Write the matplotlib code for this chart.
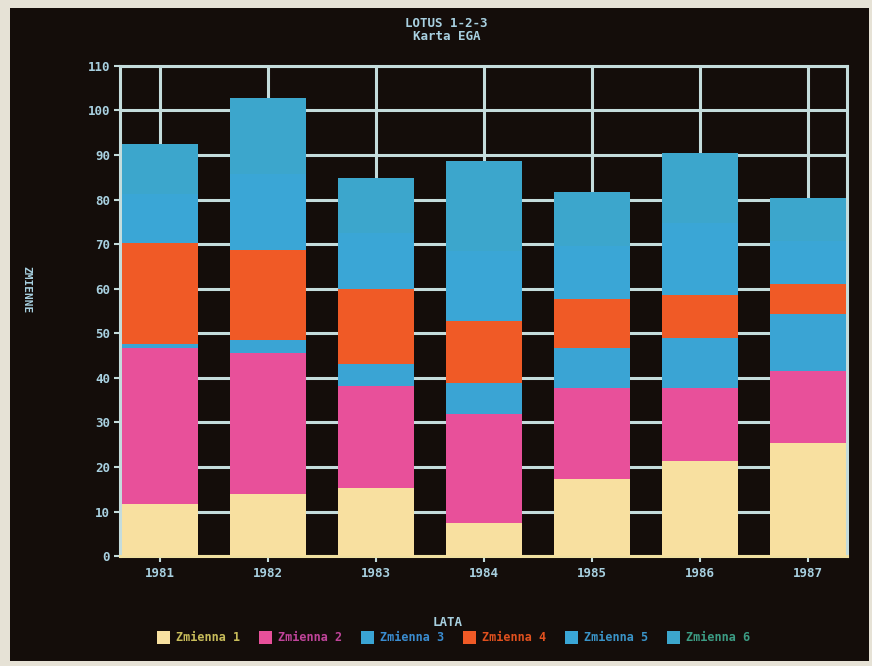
import matplotlib.pyplot as plt
import numpy as np
from matplotlib.patches import Rectangle

# data
years = ['1981', '1982', '1983', '1984', '1985', '1986', '1987']
zmienna1 = [11.7, 14.0, 15.3, 7.5, 17.2, 21.3, 25.4]
zmienna2 = [35.0, 31.6, 22.9, 24.3, 20.6, 16.5, 16.1]
zmienna3 = [1.0, 3.0, 4.8, 7.1, 9.0, 11.2, 12.8]
zmienna4 = [22.6, 20.2, 16.9, 13.9, 10.8, 9.7, 6.7]
zmienna5 = [11.0, 17.0, 12.5, 15.7, 12.0, 16.0, 9.7]
zmienna6 = [11.2, 17.1, 12.4, 20.2, 12.0, 15.8, 9.7]
labels = ['Zmienna 1', 'Zmienna 2', 'Zmienna 3', 'Zmienna 4', 'Zmienna 5', 'Zmienna 6']

bar_colors = ['#f8e0a0', '#e8509a', '#3aa4d4', '#f05a26', '#3aa6d6', '#3ca6cc']
text_colors = ['#c8bc5a', '#c0449a', '#3a8cd0', '#e0501e', '#3a94c8', '#3c9c84']
bg = '#140d0a'
grid_col = '#c4dcdc'
txt_col = '#a8d0e0'

fig = plt.figure(figsize=(8.72, 6.66), dpi=100)
fig.patch.set_facecolor('#e6e2d6')
fig.patches.append(Rectangle((0.011, 0.008), 0.985, 0.98, transform=fig.transFigure,
                             facecolor=bg, edgecolor='none', zorder=-10))

ax = fig.add_axes([0.138, 0.165, 0.833, 0.736])
ax.set_facecolor(bg)

x = np.arange(len(years))
series = [zmienna1, zmienna2, zmienna3, zmienna4, zmienna5, zmienna6]
bottom = np.zeros(len(years))
for vals, col, lab in zip(series, bar_colors, labels):
    ax.bar(x, vals, width=0.70, bottom=bottom, color=col, label=lab, zorder=3)
    bottom += np.array(vals)

ax.set_xlim(-0.37, 6.36)
ax.set_ylim(0, 110)
ax.set_yticks(np.arange(0, 111, 10))
ax.set_xticks(x)
ax.set_xticklabels(years)
ax.grid(True, color=grid_col, linewidth=2.2, zorder=1)

for s in ax.spines.values():
    s.set_color(grid_col)
    s.set_linewidth(2.2)
ax.spines['bottom'].set_color('#f0e0a0')

ax.tick_params(colors=grid_col, labelcolor=txt_col, length=4, width=1.5)
for t in ax.get_xticklabels() + ax.get_yticklabels():
    t.set_fontfamily('DejaVu Sans Mono')
    t.set_fontweight('bold')
    t.set_fontsize(9)

fig.text(0.512, 0.955, 'LOTUS 1-2-3\nKarta EGA', ha='center', va='center',
         color=txt_col, fontsize=9, fontweight='bold', family='DejaVu Sans Mono',
         linespacing=1.0)
fig.text(0.513, 0.066, 'LATA', ha='center', va='center', color=txt_col,
         fontsize=9, fontweight='bold', family='DejaVu Sans Mono')
fig.text(0.03, 0.565, 'ZMIENNE', ha='center', va='center', rotation=270,
         color=txt_col, fontsize=8, fontweight='bold', family='DejaVu Sans Mono')

leg = fig.legend(loc='center', bbox_to_anchor=(0.52, 0.043), ncol=6, frameon=False,
                 handlelength=1.1, handleheight=1.3, handletextpad=0.5,
                 columnspacing=1.6, labelcolor=text_colors,
                 prop={'family': 'DejaVu Sans Mono', 'weight': 'bold', 'size': 8.5})

fig.savefig('out.png', dpi=100, facecolor=fig.get_facecolor())
